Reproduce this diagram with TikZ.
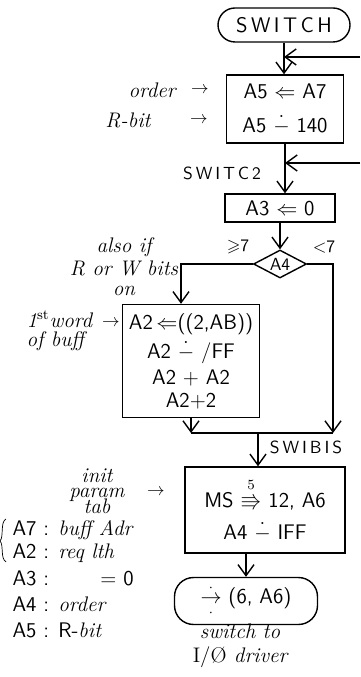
\documentclass[tikz,border=0pt]{standalone}
\usepackage{amsmath, amssymb}
\usepackage{tikz}
\usetikzlibrary{arrows.meta,shapes.geometric,calc}
\newcommand\dminus{\mathbin{\dot{-}}}
\newcommand\dotto{\mathrel{\overset{\cdot}{\underset{\cdot}{\rightarrow}}}}
\newcommand\hw[1]{{\rmfamily\itshape #1}}

\begin{document}
\begin{tikzpicture}[x=0.2mm, y=-0.2mm, thick, >={Straight Barb[length=2.2mm,width=3.2mm]},
    box/.style={draw, font=\sffamily\large, align=center},
    term/.style={draw, rounded corners=3.4mm, font=\sffamily\large},
    tag/.style={font=\sffamily},
    note/.style={font=\rmfamily\itshape\large, align=center},
    legend/.style={anchor=west, font=\sffamily\large}]
    \useasboundingbox (0,0) rectangle (360,677);
    \node[term, minimum width=26.4mm, minimum height=6.8mm] (sw) at (284,25) {S\,W\,I\,T\,C\,H};
    \node[box, minimum width=23.4mm, minimum height=13.6mm] (b1) at (285,109) {A5 $\Leftarrow$ A7\\[1.8mm] A5 $\dminus$ 140};
    \node[box, minimum width=22mm, minimum height=5.6mm] (b2) at (280,208) {A3 $\Leftarrow$ 0};
    \node[diamond, draw, aspect=2, minimum width=10.6mm, minimum height=5.6mm, inner sep=0pt, tag] (dec) at (280,264) {A4};
    \node[box, minimum width=27.4mm, minimum height=22.6mm] (b3) at (191,361) {A2$\,\Leftarrow$((2,AB))\\[1mm] A2 $\dminus$ /FF\\[0.2mm] A2 + A2\\[-0.4mm] A2+2};
    \node[box, minimum width=32mm, minimum height=17.2mm] (b4) at (265,510) {MS $\overset{5}{\Rrightarrow}$ 12, A6\\[1.6mm] A4 $\dminus$ IFF};
    \node[term, minimum width=28.6mm, minimum height=7.6mm, rounded corners=3.8mm] (t2) at (246,601) {$\dotto$ (6, A6)};
    \coordinate (in1) at (360,57);
    \coordinate (in2) at (360,163);
    \coordinate (mrg) at (333,433);
    \coordinate (j2) at (258,433);
    \draw[->] (sw.south) -- (sw.south |- b1.north);
    \draw[->] (in1) -- (in1 -| sw.south);
    \draw[->] (b1.south) -- (b1.south |- b2.north);
    \draw[->] (in2) -- (in2 -| b1.south);
    \draw[->] (b2.south) -- (dec.north);
    \draw[->] (dec.west) -| ([xshift=-2mm]b3.north);
    \draw[->] (dec.east) -| (mrg);
    \draw[->] (b3.south) -- (b3.south |- mrg);
    \draw (b3.south |- mrg) -- (mrg);
    \draw[->] (j2) -- (j2 |- b4.north);
    \draw[->] (b4.south -| t2.north) -- (t2.north);
    \node[tag] (sw2) at (222,173) {S\,W\,I\,T\,C\,2};
    \node[tag] (swb) at (306,447) {S\,W\,I\,B\,I\,S};
    \node[tag] (geq) at (238,247) {$\geqslant$7};
    \node[tag] (lt) at (324,247) {$<$7};
    \node[note] (ord) at (152,90) {order};
    \node (orda) at (200,90) {$\rightarrow$};
    \node[note] (rb) at (128,120) {R-bit};
    \node (rba) at (199,120) {$\rightarrow$};
    \node[note] (rw) at (124,267) {also if\\[-0.5mm] R or W bits\\[-0.8mm] on};
    \node[note, align=left, anchor=west] (fw) at (20,331) {1$^{\mathrm{st}}$word\\[-1mm] of buff};
    \node (fwa) at (111,323) {$\rightarrow$};
    \node[note] (ip) at (97,491) {init\\[-1.8mm] param\\[-1.8mm] tab};
    \node (ipa) at (156,492) {$\rightarrow$};
    \node[legend] (l1) at (6,530) {A7 : \hw{buff Adr}};
    \node[legend] (l2) at (6,553) {A2 : \hw{req lth}};
    \node[legend] (l3) at (6,578) {A3 : \qquad = 0};
    \node[legend] (l4) at (6,604) {A4 : \hw{order}};
    \node[legend] (l5) at (6,630) {A5 : R-\hw{bit}};
    \draw[thin] (6,519) .. controls (0,522) and (4,537) .. (0,541) .. controls (4,545) and (0,558) .. (6,562);
    \node[note] (cap) at (240,646) {switch to\\ \textup{I/\O} driver};
\end{tikzpicture}
\end{document}
